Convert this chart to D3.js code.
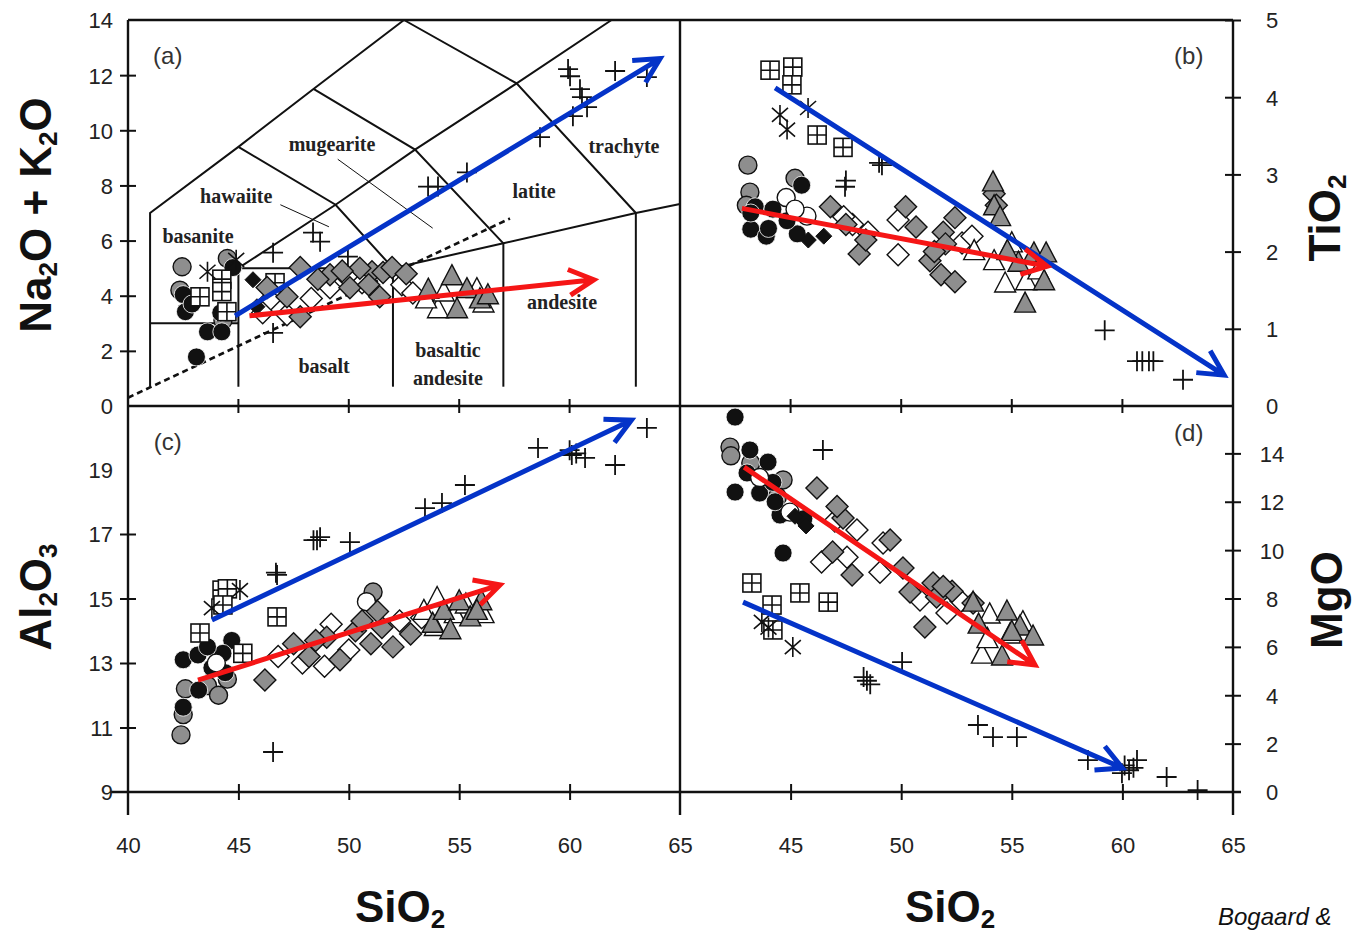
<!DOCTYPE html>
<html><head><meta charset="utf-8">
<script src="https://cdn.jsdelivr.net/npm/d3@7"></script>
<style>body{margin:0;background:#fff;overflow:hidden}</style>
</head><body><svg id="c" width="1355" height="938"></svg>
<script>
// ---------- ticks / labels ----------
const xTicksLeft = [40,45,50,55,60,65];
const xTicksRight = [45,50,55,60,65];
const xInnerTicks = [45,50,55,60];
const yTicksA = [0,2,4,6,8,10,12,14];
const yTicksB = [0,1,2,3,4,5];
const yTicksC = [9,11,13,15,17,19];
const yTicksD = [0,2,4,6,8,10,12,14];
const panelLetters = ['(a)','(b)','(c)','(d)'];

// ---------- TAS classification (panel a) ----------
const tasLines = [
  [[41,0.7],[41,7],[45,9.4],[48.4,11.5],[52.5,14]],
  [[41,3],[45,3]],
  [[45,0.7],[45,5],[49.4,7.3],[53,9.3],[57.6,11.7],[61.9,14]],
  [[45,9.4],[49.4,7.3],[52,5]],
  [[48.4,11.5],[53,9.3],[57,5.9]],
  [[52.5,14],[57.6,11.7],[63,7]],
  [[45,5],[52,5],[57,5.9],[63,7],[65,7.33]],
  [[52,0.7],[52,5]],
  [[57,0.7],[57,5.9]],
  [[63,0.7],[63,7]]
];
const tasLeaders = [ [[46.9,7.3],[49.1,6.5]], [[49.5,8.95],[53.8,6.45]] ];
const tasDivide = [[40,0.3],[57.3,6.8]];
const tasFieldNames = ['basanite','hawaiite','mugearite','latite','trachyte','andesite','basalt','basaltic','andesite'];
const tasFieldAt = [[43.17,5.93],[44.9,7.38],[49.24,9.24],[58.39,7.53],[62.46,9.16],[59.66,3.53],[48.88,1.2],[54.49,1.78],[54.49,0.76]];

// ---------- panel (a): Na2O+K2O vs SiO2 ----------
const aGreyCircle = [[42.45,5.05],[44.5,5.35],[42.35,4.2],[44.3,3.1]];
const aBlackCircle = [[43.1,1.78],[42.5,4.04],[42.6,3.42],[43.6,2.69],[44.25,2.69],[44.75,5.02],[44.2,3.38],[42.9,3.7]];
const aWhiteCircle = [];
const aSquare = [[43.26,3.96],[44.25,4.6],[44.25,4.15],[44.48,3.42],[46.66,4.47]];
const aAsterisk = [[44.9,5.3],[43.6,4.87]];
const aPlus = [[59.93,12.22],[60.02,11.96],[60.47,11.49],[60.56,11.2],[60.79,10.84],[60.15,10.51],[62.06,12.15],[63.5,11.93],[58.66,9.75],[55.35,8.47],[53.59,7.96],[54.04,7.96],[46.57,5.56],[48.38,6.29],[48.7,5.96],[49.96,5.42],[46.57,2.65]];
const aWhiteDiamond = [[49.15,4.29],[47.2,3.31],[46.43,3.85],[46.1,3.38],[50.6,4.47],[48.3,3.9],[52.4,4.4],[52.9,4.1],[49.9,4.7]];
const aGreyDiamond = [[47.8,5.02],[49.15,4.76],[50.05,4.29],[51.05,4.87],[51.55,4.84],[51.96,5.02],[47.2,3.96],[47.8,3.24],[51.4,3.96],[48.6,4.6],[50.5,5.0],[49.7,4.9],[46.3,4.3],[50.9,4.4],[52.6,4.8]];
const aBlackDiamond = [[45.66,4.58],[45.84,3.6]];
const aWhiteTri = [[54.04,3.49],[55.8,4.22],[53.5,3.85],[54.3,4.1],[56.1,3.7]];
const aGreyTri = [[54.67,4.69],[54.9,3.49],[55.35,4.22],[55.94,3.85],[56.3,4.0],[53.6,4.2]];
const aBlueArrow = [[44.85,3.27],[64.1,12.6]];
const aRedArrow = [[45.5,3.27],[61.1,4.58]];

// ---------- panel (b): TiO2 vs SiO2 ----------
const bGreyCircle = [[43.07,3.12],[43.16,2.77],[45.2,2.95],[43.0,2.6]];
const bBlackCircle = [[45.5,2.86],[43.2,2.29],[43.9,2.2],[45.3,2.23],[43.4,2.58],[44.2,2.55],[44.84,2.4],[44.0,2.3],[43.2,2.5]];
const bWhiteCircle = [[45.74,2.46],[44.8,2.7],[45.2,2.55]];
const bSquare = [[44.07,4.35],[45.1,4.39],[45.06,4.16],[46.2,3.51],[47.37,3.35]];
const bAsterisk = [[44.52,3.77],[44.84,3.58],[45.79,3.86]];
const bPlus = [[47.46,2.84],[47.5,2.92],[49.13,3.12],[49.0,3.15],[59.2,0.98],[60.66,0.58],[60.9,0.58],[61.2,0.58],[61.4,0.58],[62.74,0.34]];
const bWhiteDiamond = [[47.8,2.35],[49.86,2.41],[49.86,1.96],[52.75,2.11],[48.5,2.25],[47.4,2.45],[53.2,2.2]];
const bGreyDiamond = [[46.8,2.58],[48.1,1.97],[50.2,2.58],[50.67,2.32],[51.3,1.88],[51.8,1.7],[52.43,1.61],[51.9,2.25],[52.43,2.44],[47.5,2.35],[48.4,2.15],[52.0,2.1],[54.2,2.75],[54.3,2.6],[51.5,2.0]];
const bBlackDiamond = [[46.5,2.2],[45.8,2.15]];
const bWhiteTri = [[54.7,1.58],[55.65,1.61],[54.2,1.87],[53.3,2.0],[55.0,2.1],[56.2,1.75]];
const bGreyTri = [[54.15,2.89],[54.2,2.58],[54.47,2.44],[55.6,1.32],[56.0,1.97],[56.55,1.97],[56.46,1.61],[55.3,1.85],[54.8,2.0]];
const bBlueArrow = [[44.3,4.12],[64.6,0.4]];
const bRedArrow = [[42.8,2.56],[56.6,1.81]];

// ---------- panel (c): Al2O3 vs SiO2 ----------
const cGreyCircle = [[42.4,10.77],[42.5,11.4],[42.6,12.2],[43.6,12.3],[44.5,12.5],[51.1,15.2],[44.1,12.0]];
const cBlackCircle = [[42.5,11.63],[42.5,13.1],[43.17,13.25],[43.2,12.16],[43.8,12.85],[44.4,12.7],[44.7,13.7],[44.3,13.3],[43.6,13.5]];
const cWhiteCircle = [[44.0,13.0],[50.8,14.9]];
const cSquare = [[43.26,13.93],[44.26,15.26],[44.5,15.3],[44.3,14.8],[46.75,14.43],[45.2,13.3]];
const cAsterisk = [[45.07,15.26],[43.8,14.7]];
const cPlus = [[46.75,15.73],[46.7,15.8],[48.4,16.81],[48.56,16.81],[48.7,16.9],[50.05,16.75],[53.45,17.8],[54.22,17.96],[55.26,18.52],[58.57,19.67],[60.1,19.45],[60.3,19.5],[60.7,19.36],[60.0,19.6],[62.06,19.14],[63.5,20.29],[46.57,10.24]];
const cWhiteDiamond = [[46.8,13.2],[47.9,13.0],[49.2,14.2],[50.0,13.4],[52.3,14.3],[53.3,14.4],[48.9,12.9]];
const cGreyDiamond = [[46.2,12.47],[47.5,13.6],[48.2,13.2],[49.0,13.8],[49.6,13.1],[50.3,14.0],[51.0,13.6],[51.5,14.1],[52.0,13.5],[52.8,13.9],[50.6,14.3],[48.5,13.7],[51.3,14.6]];
const cBlackDiamond = [];
const cWhiteTri = [[53.4,14.6],[54.0,15.0],[54.8,14.5],[55.3,14.8],[53.9,14.1],[56.1,14.5]];
const cGreyTri = [[53.8,14.2],[54.3,14.6],[55.0,14.9],[55.5,14.4],[56.0,14.9],[54.6,14.0],[55.8,14.6]];
const cBlueArrow = [[43.8,14.33],[62.8,20.53]];
const cRedArrow = [[43.17,12.47],[56.85,15.42]];

// ---------- panel (d): MgO vs SiO2 ----------
const dGreyCircle = [[42.26,14.26],[42.3,13.9],[44.66,12.9],[44.4,12.2],[43.2,13.6]];
const dBlackCircle = [[42.49,15.5],[43.16,14.14],[43.98,13.64],[43.03,13.19],[42.49,12.4],[43.6,12.36],[44.2,12.8],[44.52,11.45],[44.66,9.88],[45.6,11.3],[44.3,12.0]];
const dWhiteCircle = [[44.97,11.57],[43.6,13.0]];
const dSquare = [[43.25,8.64],[44.16,7.73],[44.2,6.7],[45.42,8.23],[46.7,7.85]];
const dAsterisk = [[43.7,7.03],[45.1,5.99],[44.0,6.8]];
const dPlus = [[46.46,14.14],[48.3,4.75],[48.45,4.6],[48.6,4.45],[50.04,5.37],[53.47,2.77],[54.15,2.27],[55.23,2.27],[58.44,1.32],[59.98,0.78],[60.1,1.1],[60.3,0.9],[60.66,1.32],[60.5,1.0],[62.0,0.62],[63.4,0.08]];
const dWhiteDiamond = [[48.0,10.83],[46.4,9.51],[47.55,9.71],[49.18,10.29],[49.04,9.09],[50.85,7.94],[52.07,7.4],[47.0,11.2],[52.7,7.9]];
const dGreyDiamond = [[46.19,12.57],[47.37,11.33],[46.9,9.92],[47.78,8.97],[49.5,10.42],[50.08,9.26],[50.4,8.27],[51.44,8.64],[51.07,6.82],[51.6,8.06],[53.25,7.81],[52.3,8.3],[51.9,8.5],[47.1,11.8]];
const dBlackDiamond = [[45.2,11.4],[45.7,11.0]];
const dWhiteTri = [[54.0,7.32],[54.92,6.49],[53.65,5.66],[55.5,7.0],[53.9,6.3]];
const dGreyTri = [[53.25,7.81],[54.78,7.44],[55.37,6.82],[55.96,6.41],[54.56,5.58],[53.5,6.9],[55.0,6.6]];
const dBlueArrow = [[42.85,7.85],[60.0,0.99]];
const dRedArrow = [[42.9,13.43],[56.05,5.25]];

// ---------- scales ----------
const svg = d3.select('#c');
const xL = d3.scaleLinear().domain([40,65]).range([128,680]);
const xR = d3.scaleLinear().domain([40,65]).range([680,1233]);
const yA = d3.scaleLinear().domain([0,14]).range([406,20]);
const yB = d3.scaleLinear().domain([0,5]).range([406,20]);
const yC = d3.scaleLinear().domain([9,21]).range([792,405]);
const yD = d3.scaleLinear().domain([0,16]).range([792,405]);

const INK = '#111';
const GREY = '#8e8e8e';
const BLUE = '#0433c8';
const RED = '#f51616';
const tickFont = '"Liberation Sans Narrow","Arial Narrow","Liberation Sans",Arial,sans-serif';
const titleFont = '"Liberation Sans",Arial,sans-serif';

// ---------- TAS grid ----------
const gT = svg.append('g');
const line = d3.line().x(d=>xL(d[0])).y(d=>yA(d[1]));
tasLines.forEach(l=>gT.append('path').attr('d',line(l)).attr('fill','none').attr('stroke',INK).attr('stroke-width',2));
tasLeaders.forEach(l=>gT.append('path').attr('d',line(l)).attr('fill','none').attr('stroke',INK).attr('stroke-width',1));
gT.append('path').attr('d',line(tasDivide)).attr('fill','none').attr('stroke',INK).attr('stroke-width',2.6).attr('stroke-dasharray','6,4');
gT.selectAll('text.f').data(tasFieldNames).join('text')
  .attr('x',(d,i)=>xL(tasFieldAt[i][0])).attr('y',(d,i)=>yA(tasFieldAt[i][1]))
  .attr('text-anchor','middle').attr('font-family','"Liberation Serif","Times New Roman",serif')
  .attr('font-weight','bold').attr('font-size',20).attr('fill','#222').text(d=>d);

// ---------- markers ----------
function drawSeries(g, data, xs, ys, type){
  const sel = g.append('g').selectAll('g').data(data).join('g')
    .attr('transform',d=>`translate(${xs(d[0])},${ys(d[1])})`);
  const sw = 1.4;
  if(type==='gc') sel.append('circle').attr('r',9).attr('fill',GREY).attr('stroke',INK).attr('stroke-width',sw);
  if(type==='bc') sel.append('circle').attr('r',9).attr('fill',INK).attr('stroke','#fff').attr('stroke-width',0.8);
  if(type==='wc') sel.append('circle').attr('r',9).attr('fill','#fff').attr('stroke',INK).attr('stroke-width',sw);
  if(type==='sq'){
    sel.append('rect').attr('x',-9).attr('y',-9).attr('width',18).attr('height',18).attr('fill','#fff').attr('stroke',INK).attr('stroke-width',1.6);
    sel.append('path').attr('d','M0,-9V9M-9,0H9').attr('stroke',INK).attr('stroke-width',1.6);
  }
  if(type==='ast') sel.append('path').attr('d','M0,-10V10M-8,-7L8,7M-8,7L8,-7').attr('stroke',INK).attr('stroke-width',1.6).attr('fill','none');
  if(type==='pl') sel.append('path').attr('d','M-10,0H10M0,-10V10').attr('stroke',INK).attr('stroke-width',1.8).attr('fill','none');
  if(type==='wd') sel.append('path').attr('d','M0,-11L11,0L0,11L-11,0Z').attr('fill','#fff').attr('stroke',INK).attr('stroke-width',sw);
  if(type==='gd') sel.append('path').attr('d','M0,-11L11,0L0,11L-11,0Z').attr('fill',GREY).attr('stroke',INK).attr('stroke-width',sw);
  if(type==='bd') sel.append('path').attr('d','M0,-8L8,0L0,8L-8,0Z').attr('fill',INK).attr('stroke',INK).attr('stroke-width',1);
  if(type==='wt') sel.append('path').attr('d','M0,-12L10.5,8L-10.5,8Z').attr('fill','#fff').attr('stroke',INK).attr('stroke-width',sw);
  if(type==='gt') sel.append('path').attr('d','M0,-12L10.5,8L-10.5,8Z').attr('fill',GREY).attr('stroke',INK).attr('stroke-width',sw);
}
function drawArrow(g, pts, xs, ys, color){
  const x0=xs(pts[0][0]), y0=ys(pts[0][1]), x1=xs(pts[1][0]), y1=ys(pts[1][1]);
  const a=Math.atan2(y1-y0,x1-x0), L=28, f=0.48;
  const hx1=x1-L*Math.cos(a-f), hy1=y1-L*Math.sin(a-f), hx2=x1-L*Math.cos(a+f), hy2=y1-L*Math.sin(a+f);
  g.append('path').attr('d',`M${x0},${y0}L${x1},${y1}M${hx1},${hy1}L${x1},${y1}L${hx2},${hy2}`)
    .attr('fill','none').attr('stroke',color).attr('stroke-width',5).attr('stroke-linejoin','miter').attr('stroke-linecap','butt');
}

const panels = [
  {xs:xL, ys:yA, s:{gc:aGreyCircle,bc:aBlackCircle,wc:aWhiteCircle,sq:aSquare,ast:aAsterisk,wd:aWhiteDiamond,gd:aGreyDiamond,bd:aBlackDiamond,wt:aWhiteTri,gt:aGreyTri,pl:aPlus}, blue:aBlueArrow, red:aRedArrow},
  {xs:xR, ys:yB, s:{gc:bGreyCircle,bc:bBlackCircle,wc:bWhiteCircle,sq:bSquare,ast:bAsterisk,wd:bWhiteDiamond,gd:bGreyDiamond,bd:bBlackDiamond,wt:bWhiteTri,gt:bGreyTri,pl:bPlus}, blue:bBlueArrow, red:bRedArrow},
  {xs:xL, ys:yC, s:{gc:cGreyCircle,bc:cBlackCircle,wc:cWhiteCircle,sq:cSquare,ast:cAsterisk,wd:cWhiteDiamond,gd:cGreyDiamond,bd:cBlackDiamond,wt:cWhiteTri,gt:cGreyTri,pl:cPlus}, blue:cBlueArrow, red:cRedArrow},
  {xs:xR, ys:yD, s:{gc:dGreyCircle,bc:dBlackCircle,wc:dWhiteCircle,sq:dSquare,ast:dAsterisk,wd:dWhiteDiamond,gd:dGreyDiamond,bd:dBlackDiamond,wt:dWhiteTri,gt:dGreyTri,pl:dPlus}, blue:dBlueArrow, red:dRedArrow}
];
const order = ['gc','bc','wc','sq','ast','wd','gd','bd','wt','gt','pl'];
panels.forEach(p=>{
  const g = svg.append('g');
  order.forEach(t=>drawSeries(g, p.s[t], p.xs, p.ys, t));
});
panels.forEach(p=>{
  const g = svg.append('g');
  drawArrow(g, p.blue, p.xs, p.ys, BLUE);
  drawArrow(g, p.red, p.xs, p.ys, RED);
});

// ---------- frame ----------
const gF = svg.append('g').attr('stroke',INK).attr('stroke-width',2.4);
gF.append('line').attr('x1',xL(40)).attr('x2',xR(65)).attr('y1',yA(14)).attr('y2',yA(14));
gF.append('line').attr('x1',xL(40)).attr('x2',xR(65)).attr('y1',yA(0)).attr('y2',yA(0));
gF.append('line').attr('x1',xL(40)-18).attr('x2',xR(65)+8).attr('y1',yC(9)).attr('y2',yC(9));
[xL(40), xL(65), xR(65)].forEach(x=>gF.append('line').attr('x1',x).attr('x2',x).attr('y1',yA(14)).attr('y2',yC(9)+23));

// ---------- axes ----------
function styleAxis(g){
  g.select('.domain').remove();
  g.selectAll('.tick line').attr('stroke',INK).attr('stroke-width',2);
  g.selectAll('.tick text').attr('font-family',tickFont).attr('font-size',22).attr('fill','#222');
}
const fmt = d3.format('d');
// left axes
[[yA,yTicksA],[yC,yTicksC]].forEach(([ys,tv])=>{
  const g = svg.append('g').attr('transform',`translate(${xL(40)},0)`)
    .call(d3.axisLeft(ys).tickValues(tv).tickFormat(fmt).tickSize(8).tickPadding(7));
  styleAxis(g);
  g.selectAll('.tick line').attr('x1',8).filter(d=>d===tv[0]||d===tv[tv.length-1]).remove();
  g.selectAll('.tick text').attr('dy','0.36em');
});
// right axes
[[yB,yTicksB],[yD,yTicksD]].forEach(([ys,tv])=>{
  const g = svg.append('g').attr('transform',`translate(${xR(65)},0)`)
    .call(d3.axisRight(ys).tickValues(tv).tickFormat(fmt).tickSize(8).tickPadding(7));
  styleAxis(g);
  g.selectAll('.tick line').attr('x1',-8).filter(d=>d===0).remove();
  g.selectAll('.tick text').attr('text-anchor','middle').attr('x',39).attr('dy','0.36em');
});
// bottom axes
[[xL,xTicksLeft],[xR,xTicksRight]].forEach(([xs,tv])=>{
  const g = svg.append('g').attr('transform',`translate(0,${yC(9)})`)
    .call(d3.axisBottom(xs).tickValues(tv).tickFormat(fmt).tickSize(8).tickPadding(37));
  styleAxis(g);
  g.selectAll('.tick line').attr('y1',-8).filter(d=>d===40||d===65).remove();
});
// inner ticks on the middle line
[xL,xR].forEach(xs=>{
  svg.append('g').selectAll('line').data(xInnerTicks).join('line')
    .attr('x1',d=>xs(d)).attr('x2',d=>xs(d)).attr('y1',yA(0)-7).attr('y2',yA(0)+7)
    .attr('stroke',INK).attr('stroke-width',2);
});

// ---------- panel letters ----------
const letterPos = [[xL,yA,41.8,12.4],[xR,yB,63.0,4.43],[xL,yC,41.8,19.6],[xR,yD,63.0,14.5]];
svg.append('g').selectAll('text').data(panelLetters).join('text')
  .attr('x',(d,i)=>letterPos[i][0](letterPos[i][2])).attr('y',(d,i)=>letterPos[i][1](letterPos[i][3]))
  .attr('text-anchor','middle').attr('font-family',tickFont).attr('font-size',24).attr('fill','#333').text(d=>d);

// clipped remnants of following panels' letters
svg.append('clipPath').attr('id','clipTop').append('rect').attr('x',0).attr('y',0).attr('width',1355).attr('height',821);
svg.append('g').attr('clip-path','url(#clipTop)').selectAll('text').data(['(e)','(f)']).join('text')
  .attr('x',(d,i)=>i===0?xL(41.8):xR(63.0)).attr('y',838).attr('text-anchor','middle')
  .attr('font-family',tickFont).attr('font-size',24).attr('fill','#333').text(d=>d);

// ---------- axis titles ----------
function title(x,y,rot,parts){
  const t = svg.append('text').attr('transform',`translate(${x},${y}) rotate(${rot})`)
    .attr('text-anchor','middle').attr('font-family',titleFont).attr('font-weight','bold')
    .attr('font-size',44).attr('fill',INK);
  parts.forEach(([s,sub])=>{
    const ts = t.append('tspan').text(s);
    if(sub) ts.attr('font-size',26).attr('baseline-shift','-22%');
  });
}
title(51,215,-90,[['Na'],['2',1],['O + K'],['2',1],['O']]);
title(51,597,-90,[['Al'],['2',1],['O'],['3',1]]);
title(1340,218,-90,[['TiO'],['2',1]]);
title(1342,600,-90,[['MgO']]);
title(400,922,0,[['SiO'],['2',1]]);
title(950,922,0,[['SiO'],['2',1]]);

svg.append('text').attr('x',1218).attr('y',925).attr('font-family',titleFont).attr('font-style','italic')
  .attr('font-size',24).attr('fill',INK).text('Bogaard &');
</script>
</body></html>
